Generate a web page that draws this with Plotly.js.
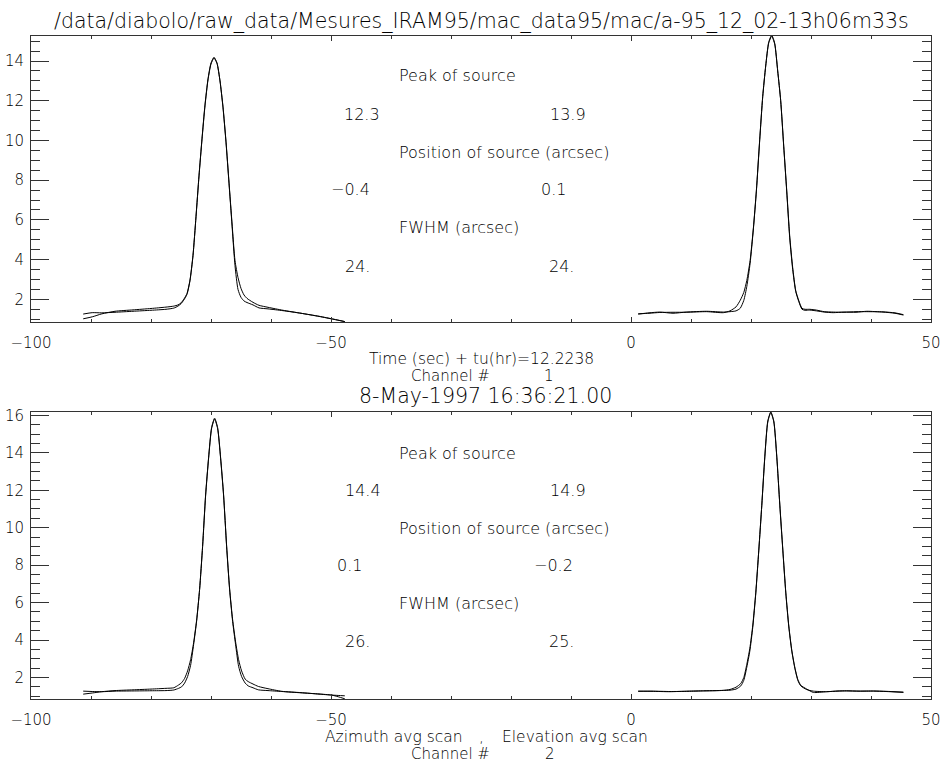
<!DOCTYPE html>
<html>
<head>
<meta charset="utf-8">
<script src="https://cdn.plot.ly/plotly-3.0.1.min.js"></script>
<style>
html,body{margin:0;padding:0;background:#fff;}
#chart{width:942px;height:764px;}
</style>
</head>
<body>
<div id="chart"></div>
<script>
// ---------- data ----------
// Top panel (channel 1), azimuth scan segment
const xTopLeft = [-91.3, -89.8, -88.2, -86, -83, -80, -77.5, -76.2, -75.5, -75, -74.5, -74, -73.5, -73, -72.5, -72, -71.5, -71, -70.5, -70, -69.5, -69, -68.5, -68, -67.5, -67, -66.5, -66, -65.5, -65, -64.5, -64, -63, -62, -60.5, -58, -55, -52, -49.5, -47.7];
const dataTopLeft = [1.26, 1.33, 1.32, 1.35, 1.40, 1.45, 1.50, 1.56, 1.66, 1.78, 1.98, 2.25, 2.94, 4.2, 6.16, 8.23, 10.1, 11.8, 13.1, 13.9, 14.19, 13.9, 13.0, 11.65, 9.9, 7.84, 5.74, 3.7, 2.5, 2.1, 1.92, 1.84, 1.72, 1.57, 1.52, 1.43, 1.3, 1.14, 0.99, 0.88];
const fitTopLeft = [1.02, 1.12, 1.27, 1.40, 1.47, 1.54, 1.61, 1.66, 1.72, 1.82, 2.02, 2.3, 2.98, 4.22, 6.16, 8.2, 10.05, 11.75, 13.05, 13.85, 14.15, 13.88, 13.0, 11.7, 9.95, 7.9, 5.85, 3.95, 3.1, 2.55, 2.22, 2.05, 1.85, 1.7, 1.6, 1.45, 1.3, 1.15, 1.0, 0.88];
// Top panel, elevation scan segment
const xTopRight = [1.2, 3, 4.8, 7, 9.2, 12.6, 15.4, 16.5, 17.5, 18.2, 18.8, 19.3, 19.85, 20.4, 20.9, 21.45, 21.95, 22.45, 22.95, 23.45, 23.95, 24.45, 24.95, 25.45, 25.95, 26.45, 26.95, 27.45, 27.95, 28.5, 29.0, 29.8, 30.9, 32.2, 33.7, 35.5, 37.5, 39.3, 42, 44, 45.4];
const dataTopRight = [1.26, 1.32, 1.36, 1.30, 1.36, 1.40, 1.36, 1.38, 1.42, 1.55, 1.95, 2.65, 3.81, 5.55, 7.45, 10.0, 12.2, 13.75, 14.95, 15.3, 14.9, 13.5, 12.0, 9.7, 7.45, 5.1, 3.5, 2.4, 1.9, 1.5, 1.45, 1.46, 1.42, 1.36, 1.33, 1.36, 1.35, 1.40, 1.36, 1.30, 1.21];
const fitTopRight = [1.27, 1.30, 1.34, 1.35, 1.35, 1.38, 1.33, 1.42, 1.62, 1.95, 2.35, 2.95, 3.95, 5.6, 7.5, 10.05, 12.2, 13.75, 14.9, 15.25, 14.85, 13.5, 12.0, 9.75, 7.5, 5.2, 3.6, 2.45, 1.95, 1.55, 1.5, 1.5, 1.46, 1.38, 1.36, 1.35, 1.38, 1.38, 1.37, 1.32, 1.23];
// Bottom panel (channel 2), azimuth scan segment
const xBotLeft = [-91.3, -89.8, -88.2, -86, -83, -80, -77.5, -76.2, -75.4, -74.9, -74.4, -73.9, -73.4, -72.9, -72.4, -71.9, -71.4, -70.9, -70.4, -69.9, -69.4, -68.9, -68.4, -67.9, -67.4, -66.9, -66.4, -65.9, -65.4, -64.9, -64.3, -63.8, -63, -62.1, -60.5, -58.2, -55, -52, -49.9, -48.8, -47.7];
const dataBotLeft = [1.27, 1.25, 1.24, 1.27, 1.28, 1.29, 1.30, 1.33, 1.42, 1.5, 1.7, 2.05, 2.65, 3.75, 5.0, 6.7, 9.0, 11.75, 13.75, 15.35, 15.85, 15.35, 13.75, 11.75, 9.0, 6.7, 5.0, 3.75, 2.6, 2.05, 1.7, 1.55, 1.45, 1.34, 1.3, 1.25, 1.18, 1.12, 1.06, 0.97, 0.86];
const fitBotLeft = [1.11, 1.17, 1.24, 1.30, 1.34, 1.38, 1.42, 1.45, 1.6, 1.72, 1.95, 2.35, 2.95, 3.85, 5.05, 6.7, 9.0, 11.7, 13.7, 15.3, 15.8, 15.3, 13.7, 11.7, 9.05, 6.75, 5.1, 3.9, 2.95, 2.35, 1.91, 1.78, 1.65, 1.52, 1.4, 1.26, 1.19, 1.11, 1.06, 1.04, 1.02];
// Bottom panel, elevation scan segment
const xBotRight = [1.2, 3.5, 6.5, 9.5, 12.1, 14, 15.4, 16.5, 17.5, 18.3, 18.8, 19.3, 19.8, 20.3, 20.8, 21.3, 21.8, 22.3, 22.8, 23.3, 23.8, 24.3, 24.8, 25.3, 25.8, 26.3, 26.8, 27.3, 27.8, 28.3, 29.3, 30.4, 32.6, 34.5, 35.9, 38, 40.4, 42.5, 45.4];
const dataBotRight = [1.27, 1.26, 1.24, 1.27, 1.29, 1.30, 1.31, 1.32, 1.38, 1.55, 1.85, 2.55, 3.4, 4.7, 6.5, 8.8, 11.2, 13.8, 15.7, 16.18, 15.7, 13.8, 11.2, 8.8, 6.5, 4.7, 3.4, 2.5, 1.85, 1.55, 1.35, 1.27, 1.24, 1.28, 1.29, 1.27, 1.27, 1.25, 1.20];
const fitBotRight = [1.26, 1.27, 1.25, 1.26, 1.28, 1.29, 1.31, 1.36, 1.48, 1.68, 2.0, 2.7, 3.55, 4.8, 6.55, 8.8, 11.2, 13.75, 15.65, 16.15, 15.65, 13.75, 11.25, 8.85, 6.55, 4.75, 3.45, 2.55, 1.9, 1.58, 1.38, 1.20, 1.24, 1.27, 1.28, 1.27, 1.28, 1.26, 1.22];

// axis ranges and ticks
const xRange = [-100, 50];
const yRangeTop = [0.86, 15.26];
const yRangeBot = [0.85, 16.18];
const xMajor = 50, xMinor = 10, yMajor = 2, yMinor = 0.5;

// texts
const titleTop = "/data/diabolo/raw_data/Mesures_IRAM95/mac_data95/mac/a-95_12_02-13h06m33s";
const titleBot = "8-May-1997 16:36:21.00";
const xLabelTop = "Time (sec) + tu(hr)=12.2238";
const xLabelBot = ["Azimuth avg scan", ",", "Elevation avg scan"];
const channelLabel = "Channel #";
const channels = ["1", "2"];
const infoLabels = ["Peak of source", "Position of source (arcsec)", "FWHM (arcsec)"];
const peakTop = ["12.3", "13.9"];
const posTop = ["\u22120.4", "0.1"];
const fwhmTop = ["24.", "24."];
const peakBot = ["14.4", "14.9"];
const posBot = ["0.1", "\u22120.2"];
const fwhmBot = ["26.", "25."];

// ---------- figure ----------
const FONT = "DejaVu Sans, Verdana, sans-serif";
const WEIGHT = 300;
const TXT = "#000";
const AX = "#333";
const L = 31, R = 11, T = 36, B = 65, W = 942, H = 764;
const PW = W - L - R, PH = H - T - B;
function px(x) { return (x - L) / PW; }
function py(y) { return (H - B - y) / PH; }
function ann(text, x, y, anchor, size) {
  return {text: text, xref: 'paper', yref: 'paper', x: px(x), y: py(y),
    xanchor: anchor || 'left', yanchor: 'middle', showarrow: false,
    font: {family: FONT, size: size || 16, color: TXT, weight: WEIGHT}};
}
function seg(a, b) { return a.concat([null], b); }

const lineStyle = {color: '#000', width: 1, shape: 'spline', smoothing: 0.6};
const traces = [
  {x: seg(xTopLeft, xTopRight), y: seg(dataTopLeft, dataTopRight), xaxis: 'x', yaxis: 'y'},
  {x: seg(xTopLeft, xTopRight), y: seg(fitTopLeft, fitTopRight), xaxis: 'x', yaxis: 'y'},
  {x: seg(xBotLeft, xBotRight), y: seg(dataBotLeft, dataBotRight), xaxis: 'x2', yaxis: 'y2'},
  {x: seg(xBotLeft, xBotRight), y: seg(fitBotLeft, fitBotRight), xaxis: 'x2', yaxis: 'y2'}
].map(t => Object.assign(t, {type: 'scatter', mode: 'lines', line: lineStyle, connectgaps: false, hoverinfo: 'skip', showlegend: false}));

// empty helper traces so that the overlay (tick-only) axes get drawn
const overlayPairs = [['x3','y3'],['x4','y4'],['x5','y5'],['x6','y6'],['x7','y7'],['x8','y8']];
overlayPairs.forEach(p => traces.push({type: 'scatter', mode: 'lines', x: [null], y: [null], xaxis: p[0], yaxis: p[1], hoverinfo: 'skip', showlegend: false}));

function mainX(anchor) {
  return {anchor: anchor, domain: [0, 1], range: xRange, tickmode: 'linear', dtick: xMajor, tick0: 0,
    ticks: 'inside', ticklen: 5, tickcolor: AX, tickwidth: 1,
    showline: true, mirror: true, linecolor: AX, linewidth: 1,
    showgrid: false, zeroline: false, ticklabelstandoff: 7,
    tickfont: {family: FONT, size: 15, color: TXT, weight: WEIGHT}};
}
function mainY(anchor, domain, range) {
  return {anchor: anchor, domain: domain, range: range, tickmode: 'linear', dtick: yMajor, tick0: 0,
    ticks: 'inside', ticklen: 18, tickcolor: AX, tickwidth: 1,
    showline: true, mirror: true, linecolor: AX, linewidth: 1,
    showgrid: false, zeroline: false, ticklabelstandoff: 3,
    tickfont: {family: FONT, size: 15, color: TXT, weight: WEIGHT}};
}
function tickOnly(over, anchor, side, range, dtick, len) {
  return {overlaying: over, anchor: anchor, side: side, range: range, tickmode: 'linear', tick0: 0, dtick: dtick,
    ticks: 'inside', ticklen: len, tickcolor: AX, tickwidth: 1, showticklabels: false,
    showline: false, showgrid: false, zeroline: false, fixedrange: true};
}

const annotations = [
  ann(titleTop, 481, 21, 'center', 20.5),
  ann(xLabelTop, 481, 358.5, 'center', 15.5),
  ann(channelLabel, 409, 376, 'left', 15),
  ann(channels[0], 549, 376, 'center', 15),
  ann(titleBot, 485, 395.5, 'center', 20.5),
  ann(xLabelBot[0], 323, 736.5, 'left', 15.5),
  ann(xLabelBot[1], 481, 736.5, 'center', 15.5),
  ann(xLabelBot[2], 500, 736.5, 'left', 15.5),
  ann(channelLabel, 409, 754, 'left', 15),
  ann(channels[1], 550, 754, 'center', 15),
  // top panel info
  ann(infoLabels[0], 397, 75),
  ann(peakTop[0], 342, 114),
  ann(peakTop[1], 548, 114),
  ann(infoLabels[1], 397, 152),
  ann(posTop[0], 329, 190),
  ann(posTop[1], 539, 190),
  ann(infoLabels[2], 397, 228),
  ann(fwhmTop[0], 343, 266),
  ann(fwhmTop[1], 547, 266),
  // bottom panel info
  ann(infoLabels[0], 397, 453),
  ann(peakBot[0], 343, 490.5),
  ann(peakBot[1], 548, 490.5),
  ann(infoLabels[1], 397, 528),
  ann(posBot[0], 335, 565.5),
  ann(posBot[1], 532, 565.5),
  ann(infoLabels[2], 397, 603.5),
  ann(fwhmBot[0], 343, 641),
  ann(fwhmBot[1], 547, 641)
];

const domTop = [py(322), 1];
const domBot = [0, py(412)];

const layout = {
  width: W, height: H,
  margin: {l: L, r: R, t: T, b: B, pad: 0},
  paper_bgcolor: '#fff', plot_bgcolor: '#fff',
  font: {family: FONT, size: 15, color: TXT},
  showlegend: false,
  // top panel
  xaxis: mainX('y'),
  yaxis: mainY('x', domTop, yRangeTop),
  xaxis3: tickOnly('x', 'y', 'bottom', xRange, xMinor, 3),
  yaxis3: tickOnly('y', 'x', 'left', yRangeTop, yMinor, 9),
  xaxis4: tickOnly('x', 'y', 'top', xRange, xMajor, 5),
  yaxis4: tickOnly('y', 'x', 'right', yRangeTop, yMajor, 18),
  xaxis5: tickOnly('x', 'y', 'top', xRange, xMinor, 3),
  yaxis5: tickOnly('y', 'x', 'right', yRangeTop, yMinor, 9),
  // bottom panel
  xaxis2: mainX('y2'),
  yaxis2: mainY('x2', domBot, yRangeBot),
  xaxis6: tickOnly('x2', 'y2', 'bottom', xRange, xMinor, 3),
  yaxis6: tickOnly('y2', 'x2', 'left', yRangeBot, yMinor, 9),
  xaxis7: tickOnly('x2', 'y2', 'top', xRange, xMajor, 5),
  yaxis7: tickOnly('y2', 'x2', 'right', yRangeBot, yMajor, 18),
  xaxis8: tickOnly('x2', 'y2', 'top', xRange, xMinor, 3),
  yaxis8: tickOnly('y2', 'x2', 'right', yRangeBot, yMinor, 9),
  annotations: annotations
};

Plotly.newPlot('chart', traces, layout, {staticPlot: true, displayModeBar: false});
</script>
</body>
</html>
